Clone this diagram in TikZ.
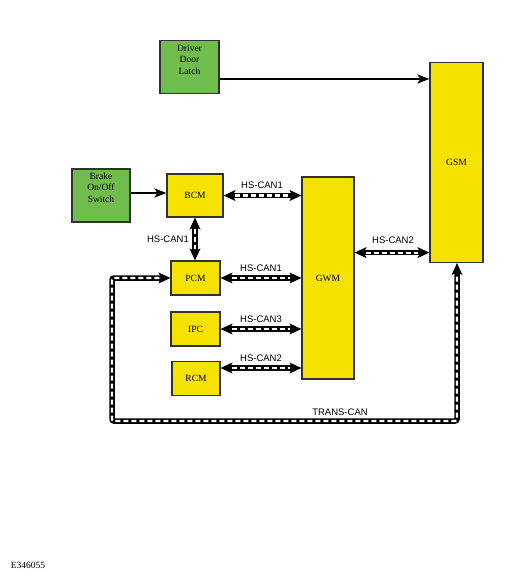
\documentclass[tikz,border=0pt]{standalone}
\usepackage{fontspec}
\setmainfont{Liberation Serif}
\newfontfamily\arialf{Liberation Sans}
\usetikzlibrary{arrows.meta,calc,positioning}
\definecolor{boxgreen}{RGB}{112,188,76}
\definecolor{boxyellow}{RGB}{246,226,0}
\definecolor{boxedge}{RGB}{50,50,50}
\newcommand\canbus[1]{%
  \draw[bustip] #1;
  \draw[busbody] #1;
  \draw[busdash] #1;}
\begin{document}
\begin{tikzpicture}[x=1pt,y=-1pt,
  gbox/.style={draw=boxedge, fill=boxgreen, line width=1.2pt, inner sep=0pt},
  ybox/.style={draw=boxedge, fill=boxyellow, line width=1.2pt, inner sep=0pt,
    font=\fontsize{9.5}{11}\selectfont},
  boxtext/.style={align=center, inner sep=0pt, font=\fontsize{9.5}{11.5}\selectfont},
  buslabel/.style={inner sep=0pt, font=\arialf\fontsize{9.5}{11}\selectfont},
  bustip/.style={{Stealth[length=12pt,width=11pt,inset=3pt]}-{Stealth[length=12pt,width=11pt,inset=3pt]}, line width=1pt},
  busbody/.style={line width=5.5pt, shorten <=9pt, shorten >=9pt},
  busdash/.style={white, line width=2.2pt, dash pattern=on 5pt off 3pt, shorten <=11pt, shorten >=11pt},
  sigarrow/.style={-{Stealth[length=12pt,width=9pt,inset=3pt]}, line width=2pt}]
\useasboundingbox (0,0) rectangle (513,579);

% boxes
\node[gbox, minimum width=59pt, minimum height=53pt] (latch) at (189.5,67) {};
\node[boxtext, anchor=north] (latcht) at ([yshift=-5pt]latch.north) {Driver\\Door\\Latch};
\node[gbox, minimum width=58pt, minimum height=53pt] (brake) at (101,195.5) {};
\node[boxtext, anchor=north] (braket) at ([yshift=-4pt]brake.north) {Brake\\On/Off\\Switch};
\node[ybox, minimum width=53pt, minimum height=200pt] (gsm) at (456.5,162.5) {GSM};
\node[ybox, minimum width=56pt, minimum height=43pt] (bcm) at (195,195.5) {BCM};
\node[ybox, minimum width=52pt, minimum height=202pt] (gwm) at (328,278) {GWM};
\node[ybox, minimum width=49pt, minimum height=34pt] (pcm) at (195.5,278) {PCM};
\node[ybox, minimum width=49pt, minimum height=34pt] (ipc) at (195.5,329) {IPC};
\node[ybox, minimum width=48pt, minimum height=34pt] (rcm) at (196,378.5) {RCM};

% helper coordinates
\coordinate (latchout) at ([yshift=-12pt]latch.east);
\coordinate (brakeout) at ([yshift=2.5pt]brake.east);
\coordinate (rcmout) at ([yshift=10.5pt]rcm.east);
\coordinate (gsmin) at ([yshift=10.5pt]gsm.south west);
\coordinate (tcl) at (112,421);
\coordinate (tcr) at (457,421);

% plain signal arrows
\draw[sigarrow] (latchout) -- (latchout -| gsm.west);
\draw[sigarrow] (brakeout) -- (brakeout -| bcm.west);

% CAN buses
\canbus{(bcm.east) -- (bcm.east -| gwm.west)}
\node[buslabel] (l1) at (262,185) {HS-CAN1};
\canbus{(bcm.south) -- (bcm.south |- pcm.north)}
\node[buslabel, anchor=east] (l2) at (189,239) {HS-CAN1};
\canbus{(pcm.east) -- (pcm.east -| gwm.west)}
\node[buslabel] (l3) at (261,268) {HS-CAN1};
\canbus{(ipc.east) -- (ipc.east -| gwm.west)}
\node[buslabel] (l4) at (261,319) {HS-CAN3};
\canbus{(rcmout) -- (rcmout -| gwm.west)}
\node[buslabel] (l5) at (261,358) {HS-CAN2};
\canbus{(gsmin -| gwm.east) -- (gsmin)}
\node[buslabel] (l6) at (393,240) {HS-CAN2};
\canbus{[rounded corners=2pt] (pcm.west) -- (pcm.west -| tcl) -- (tcl) -- (tcr) -- (tcr |- gsm.south)}
\node[buslabel] (l7) at (340,412) {TRANS-CAN};

% figure id
\node[inner sep=0pt, font=\fontsize{9.5}{10}\selectfont] (fig) at (28,565) {E346055};
\end{tikzpicture}
\end{document}
